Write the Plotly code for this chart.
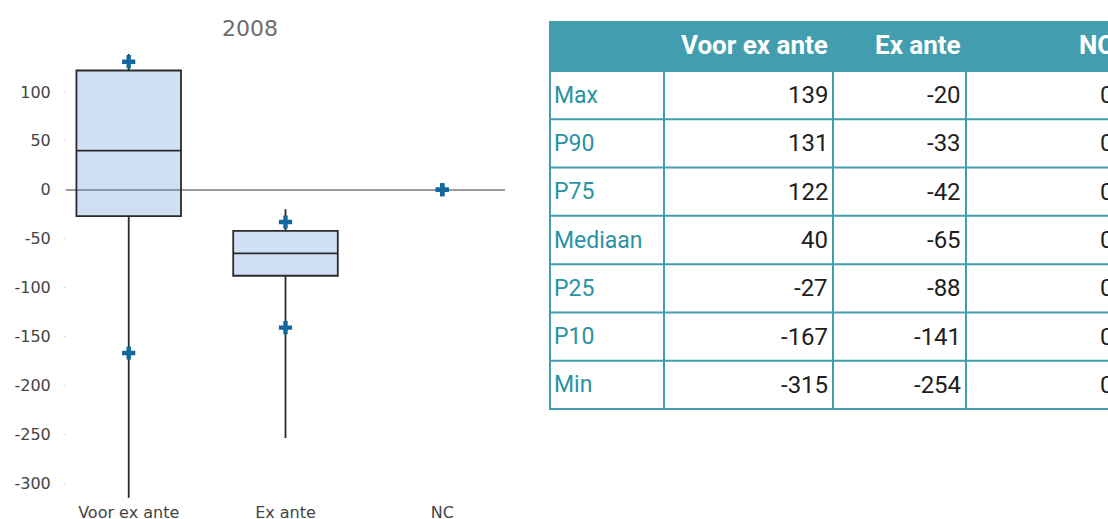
import plotly.graph_objects as go

# ---- data ----
categories = ["Voor ex ante", "Ex ante", "NC"]
stat_labels = ["Max", "P90", "P75", "Mediaan", "P25", "P10", "Min"]
voor_ex_ante = [139, 131, 122, 40, -27, -167, -315]
ex_ante = [-20, -33, -42, -65, -88, -141, -254]
nc = [0, 0, 0, 0, 0, 0, 0]
y_tick_values = [100, 50, 0, -50, -100, -150, -200, -250, -300]
title_text = "2008"

series = [voor_ex_ante, ex_ante, nc]

# the page's body margin is removed (post_script below), figure fills the window
OFF = 0
W, H = 1108, 519


def px(sx):
    return (sx - OFF) / W


def py(sy):
    return (H - (sy - OFF)) / H


def idx(name):
    return stat_labels.index(name)


# box only for non-degenerate categories
box_cats, q1, med, q3, lo, hi = [], [], [], [], [], []
for c, s in zip(categories, series):
    if s[idx("Max")] > s[idx("Min")]:
        box_cats.append(c)
        q1.append(s[idx("P25")])
        med.append(s[idx("Mediaan")])
        q3.append(s[idx("P75")])
        lo.append(s[idx("Min")])
        hi.append(s[idx("Max")])

fig = go.Figure()
fig.add_trace(go.Box(
    x=box_cats, q1=q1, median=med, q3=q3, lowerfence=lo, upperfence=hi,
    width=0.667, whiskerwidth=0, boxpoints=False,
    fillcolor="rgba(95,152,212,0.3)",
    line=dict(color="#2a2a2a", width=1.8),
    hoverinfo="skip", showlegend=False,
))

mx, my = [], []
for c, s in zip(categories, series):
    for k in ("P90", "P10"):
        mx.append(c)
        my.append(s[idx(k)])
fig.add_trace(go.Scatter(
    x=mx, y=my, mode="markers",
    marker=dict(symbol="cross", size=11, color="#12679e", line=dict(width=0)),
    showlegend=False, hoverinfo="skip",
))

# geometry of chart (screen pixels)
px_per_unit = 0.9775
y0_px = 189.75
y_range = [-318, 152]
top_px = y0_px - y_range[1] * px_per_unit
bot_px = y0_px - y_range[0] * px_per_unit

annotations = [dict(
    text=title_text, xref="paper", yref="paper",
    x=px(250), y=py(28), xanchor="center", yanchor="middle",
    showarrow=False,
    font=dict(family="DejaVu Sans", size=22, color="#6e6e6e"),
)]
shapes = []

# ---- table (drawn with shapes + text) ----
teal = "#429eae"
col_x = [550, 664, 833, 966, 1119]
row_y = [21, 71] + [71 + (409 - 71) * i / 7 for i in range(1, 8)]
header_vals = ["", "Voor ex ante", "Ex ante", "NC"]
columns = [stat_labels] + [[str(v) for v in s] for s in series]

shapes.append(dict(type="rect", xref="paper", yref="paper",
                   x0=px(col_x[0]), x1=px(col_x[-1] + 20),
                   y0=py(row_y[1]), y1=py(row_y[0]),
                   fillcolor=teal, line=dict(width=0), layer="above"))
for yy in row_y[1:]:
    shapes.append(dict(type="line", xref="paper", yref="paper",
                       x0=px(col_x[0] - 1), x1=px(col_x[-1] + 20),
                       y0=py(yy), y1=py(yy),
                       line=dict(color=teal, width=2), layer="above"))
for xx in col_x:
    shapes.append(dict(type="line", xref="paper", yref="paper",
                       x0=px(xx), x1=px(xx),
                       y0=py(row_y[0]), y1=py(row_y[-1] + 1),
                       line=dict(color=teal, width=2), layer="above"))

for j, hv in enumerate(header_vals):
    if hv:
        annotations.append(dict(
            text="<b>" + hv + "</b>", xref="paper", yref="paper",
            x=px(col_x[j + 1] - 3), y=py((row_y[0] + row_y[1]) / 2 - 1),
            xanchor="right", yanchor="middle", showarrow=False,
            font=dict(family="Roboto", size=26, color="white"),
        ))

for j, col in enumerate(columns):
    for i, v in enumerate(col):
        yc = (row_y[i + 1] + row_y[i + 2]) / 2
        if j == 0:
            annotations.append(dict(
                text=v, xref="paper", yref="paper",
                x=px(col_x[0] + 2), y=py(yc), xanchor="left", yanchor="middle",
                showarrow=False,
                font=dict(family="Roboto", size=23, color="#2a93a3"),
            ))
        else:
            annotations.append(dict(
                text=v, xref="paper", yref="paper",
                x=px(col_x[j + 1] - 3), y=py(yc), xanchor="right", yanchor="middle",
                showarrow=False,
                font=dict(family="Roboto", size=24, color="#1e1e1e"),
            ))

fig.update_layout(
    width=W, height=H,
    margin=dict(l=0, r=0, t=0, b=0),
    paper_bgcolor="white", plot_bgcolor="white",
    font=dict(family="DejaVu Sans", size=16, color="#444444"),
    xaxis=dict(
        domain=[px(66), px(505)], type="category",
        categoryorder="array", categoryarray=categories,
        range=[-0.4, 2.4], showgrid=False, showline=False, ticks="",
        zeroline=False, automargin=False,
        tickfont=dict(family="DejaVu Sans", size=16, color="#444444"),
    ),
    yaxis=dict(
        domain=[py(bot_px), py(top_px)],
        range=y_range, showgrid=False, showline=False,
        tickvals=y_tick_values, ticktext=[str(v) for v in y_tick_values],
        ticks="outside", ticklen=1, tickwidth=1, tickcolor="#c8c8c8",
        ticklabelstandoff=10,
        zeroline=True, zerolinecolor="#9a9a9a", zerolinewidth=1.5,
        automargin=False,
        tickfont=dict(family="DejaVu Sans", size=16, color="#444444"),
    ),
    annotations=annotations,
    shapes=shapes,
)

fig.write_html(
    "out.html",
    config={"displayModeBar": False},
    post_script=(
        "document.body.style.margin='0';"
        "document.body.style.overflow='hidden';"
        "document.documentElement.style.overflow='hidden';"
    ),
)
